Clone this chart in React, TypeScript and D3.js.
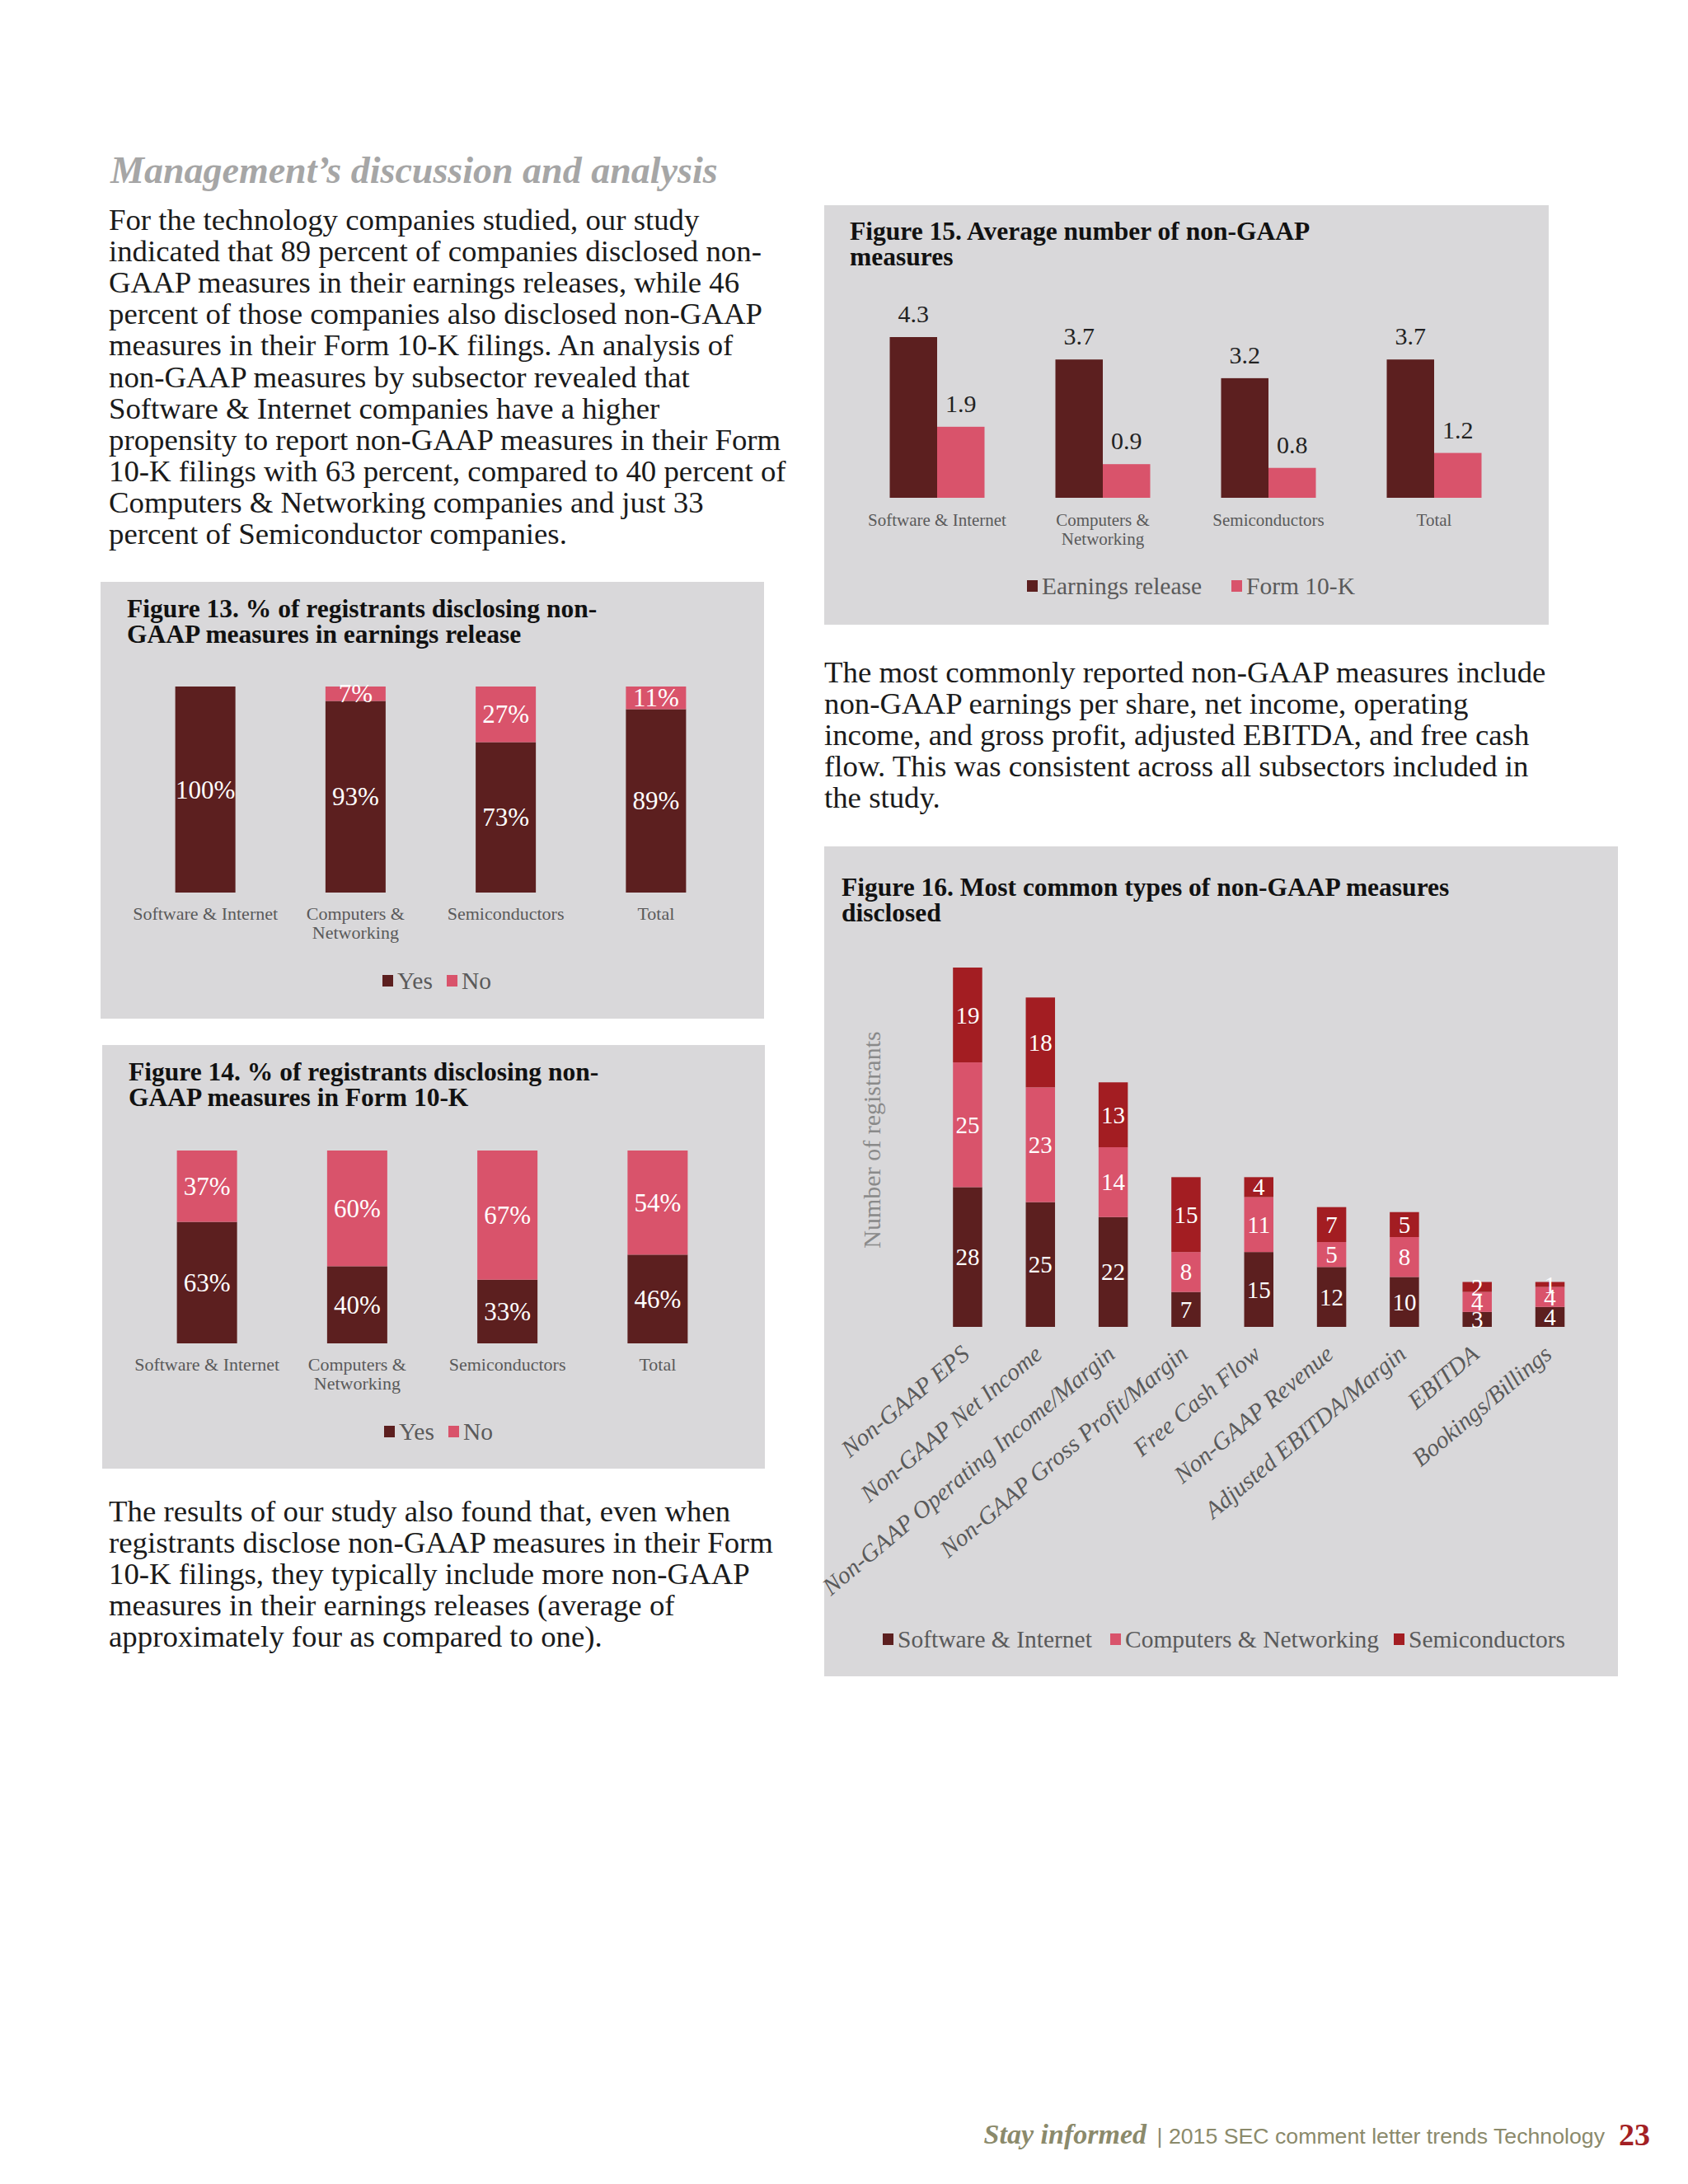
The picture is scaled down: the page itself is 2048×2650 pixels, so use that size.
import * as d3 from 'd3';

const SERIF = '"Liberation Serif", "Times New Roman", serif';
const SANS = '"Liberation Sans", Arial, sans-serif';

const DARK = '#5c1f1f';
const PINK = '#d9536b';
const RED = '#a31d22';
const PANEL = '#d9d8da';
const GRAY = '#5a5a5a';

// subsectors used by figures 13-15
const subsectors = ['Software & Internet', 'Computers & Networking', 'Semiconductors', 'Total'];
const subsectorLines = [['Software & Internet'], ['Computers &', 'Networking'], ['Semiconductors'], ['Total']];

// Figure 13: earnings release (%)
const earningsYes = [100, 93, 73, 89];
const earningsNo = [0, 7, 27, 11];

// Figure 14: Form 10-K (%)
const form10kYes = [63, 40, 33, 46];
const form10kNo = [37, 60, 67, 54];

// Figure 15: average number of measures
const avgEarnings = [4.3, 3.7, 3.2, 3.7];
const avgForm10k = [1.9, 0.9, 0.8, 1.2];

// Figure 16: most common types
const measures = [
  'Non-GAAP EPS',
  'Non-GAAP Net Income',
  'Non-GAAP Operating Income/Margin',
  'Non-GAAP Gross Profit/Margin',
  'Free Cash Flow',
  'Non-GAAP Revenue',
  'Adjusted EBITDA/Margin',
  'EBITDA',
  'Bookings/Billings',
];
const measureSoftware = [28, 25, 22, 7, 15, 12, 10, 3, 4];
const measureComputers = [25, 23, 14, 8, 11, 5, 8, 4, 4];
const measureSemis = [19, 18, 13, 15, 4, 7, 5, 2, 1];

const para1 = [
  'For the technology companies studied, our study',
  'indicated that 89 percent of companies disclosed non-',
  'GAAP measures in their earnings releases, while 46',
  'percent of those companies also disclosed non-GAAP',
  'measures in their Form 10-K filings. An analysis of',
  'non-GAAP measures by subsector revealed that',
  'Software & Internet companies have a higher',
  'propensity to report non-GAAP measures in their Form',
  '10-K filings with 63 percent, compared to 40 percent of',
  'Computers & Networking companies and just 33',
  'percent of Semiconductor companies.',
];
const para2 = [
  'The most commonly reported non-GAAP measures include',
  'non-GAAP earnings per share, net income, operating',
  'income, and gross profit, adjusted EBITDA, and free cash',
  'flow. This was consistent across all subsectors included in',
  'the study.',
];
const para3 = [
  'The results of our study also found that, even when',
  'registrants disclose non-GAAP measures in their Form',
  '10-K filings, they typically include more non-GAAP',
  'measures in their earnings releases (average of',
  'approximately four as compared to one).',
];

function Paragraph({ x, y, lines }: { x: number; y: number; lines: string[] }) {
  return (
    <text fontFamily={SERIF} fontSize={36.8} fill="#1a1a1a">
      {lines.map((l, i) => (
        <tspan key={i} x={x} y={y + i * 38.1}>{l}</tspan>
      ))}
    </text>
  );
}

function PanelTitle({ x, y, lines }: { x: number; y: number; lines: string[] }) {
  return (
    <text fontFamily={SERIF} fontSize={31.5} fontWeight="bold" fill="#111">
      {lines.map((l, i) => (
        <tspan key={i} x={x} y={y + i * 30.5}>{l}</tspan>
      ))}
    </text>
  );
}

function Legend({ y, items }: { y: number; items: { x: number; label: string; color: string }[] }) {
  return (
    <g fontFamily={SERIF} fontSize={29.5} fill={GRAY}>
      {items.map((it, i) => (
        <g key={i}>
          <rect x={it.x} y={y - 7} width={13} height={14} fill={it.color} />
          <text x={it.x + 18} y={y} dominantBaseline="central">{it.label}</text>
        </g>
      ))}
    </g>
  );
}

function PctPanel({ top, left, width, height, title, yes, no, barTop, barBase }: {
  top: number; left: number; width: number; height: number; title: string[];
  yes: number[]; no: number[]; barTop: number; barBase: number;
}) {
  const x = d3.scalePoint<string>().domain(subsectors).range([left + 36, left + 765]).padding(0.5);
  const y = d3.scaleLinear().domain([0, 100]).range([barBase, barTop]);
  const rows = subsectors.map((c, i) => ({ cat: c, yes: yes[i], no: no[i] }));
  const series = d3.stack<any>().keys(['yes', 'no'])(rows);
  const bw = 73;
  const colors: Record<string, string> = { yes: DARK, no: PINK };
  return (
    <g>
      <rect x={left} y={top} width={width} height={height} fill={PANEL} />
      <PanelTitle x={left + 32} y={top + 43} lines={title} />
      {series.map(s => (
        <g key={s.key}>
          {s.map((d, i) => {
            const v = d[1] - d[0];
            if (v <= 0) return null;
            const cx = x(subsectors[i])!;
            return (
              <g key={i}>
                <rect x={cx - bw / 2} y={y(d[1])} width={bw} height={y(d[0]) - y(d[1])} fill={colors[s.key]} />
                <text x={cx} y={(y(d[0]) + y(d[1])) / 2} textAnchor="middle" dominantBaseline="central"
                  fontFamily={SERIF} fontSize={31} fill="#fff">{v}%</text>
              </g>
            );
          })}
        </g>
      ))}
      <g fontFamily={SERIF} fontSize={22} fill={GRAY} textAnchor="middle">
        {subsectors.map((c, i) => (
          <text key={c}>
            {subsectorLines[i].map((l, j) => (
              <tspan key={j} x={x(c)} y={barBase + 33 + j * 23}>{l}</tspan>
            ))}
          </text>
        ))}
      </g>
      <Legend y={barBase + 107} items={[
        { x: left + 342, label: 'Yes', color: DARK },
        { x: left + 420, label: 'No', color: PINK },
      ]} />
    </g>
  );
}

function AvgPanel() {
  const left = 1000, top = 249, width = 879, height = 509;
  const base = 604;
  const x0 = d3.scaleBand<string>().domain(subsectors).range([1036.5, 1840.5]);
  const x1 = d3.scaleBand<string>().domain(['earn', 'form']).range([-57.5, 57.5]);
  const y = d3.scaleLinear().domain([0, 4.3]).range([base, base - 195]);
  const vals: Record<string, number[]> = { earn: avgEarnings, form: avgForm10k };
  const colors: Record<string, string> = { earn: DARK, form: PINK };
  return (
    <g>
      <rect x={left} y={top} width={width} height={height} fill={PANEL} />
      <PanelTitle x={left + 31} y={top + 42} lines={['Figure 15. Average number of non-GAAP', 'measures']} />
      {subsectors.map((c, i) => {
        const cx = x0(c)! + x0.bandwidth() / 2;
        return (
          <g key={c}>
            {(['earn', 'form'] as const).map(k => {
              const v = vals[k][i];
              const bx = cx + x1(k)!;
              return (
                <g key={k}>
                  <rect x={bx} y={y(v)} width={x1.bandwidth()} height={base - y(v)} fill={colors[k]} />
                  <text x={bx + x1.bandwidth() / 2} y={y(v) - 18} textAnchor="middle"
                    fontFamily={SERIF} fontSize={30} fill="#222">{v.toFixed(1)}</text>
                </g>
              );
            })}
            <text fontFamily={SERIF} fontSize={21} fill={GRAY} textAnchor="middle">
              {subsectorLines[i].map((l, j) => (
                <tspan key={j} x={cx} y={base + 34 + j * 23}>{l}</tspan>
              ))}
            </text>
          </g>
        );
      })}
      <Legend y={711} items={[
        { x: 1246, label: 'Earnings release', color: DARK },
        { x: 1494, label: 'Form 10-K', color: PINK },
      ]} />
    </g>
  );
}

function TypesPanel() {
  const left = 1000, top = 1027, width = 963, height = 1007;
  const base = 1610;
  const x = d3.scalePoint<string>().domain(measures).range([1129.8, 1924.7]).padding(0.5);
  const y = d3.scaleLinear().domain([0, 72]).range([base, base - 436]);
  const rows = measures.map((m, i) => ({ m, sw: measureSoftware[i], cn: measureComputers[i], sc: measureSemis[i] }));
  const series = d3.stack<any>().keys(['sw', 'cn', 'sc'])(rows);
  const colors: Record<string, string> = { sw: DARK, cn: PINK, sc: RED };
  const bw = 35.5;
  return (
    <g>
      <rect x={left} y={top} width={width} height={height} fill={PANEL} />
      <PanelTitle x={1021} y={1087} lines={['Figure 16. Most common types of non-GAAP measures', 'disclosed']} />
      <text transform="translate(1068,1383) rotate(-90)" textAnchor="middle" fontFamily={SERIF}
        fontSize={30} fill="#8a8a8a">Number of registrants</text>
      {series.map(s => (
        <g key={s.key}>
          {s.map((d, i) => {
            const v = d[1] - d[0];
            const cx = x(measures[i])!;
            return (
              <g key={i}>
                <rect x={cx - bw / 2} y={y(d[1])} width={bw} height={y(d[0]) - y(d[1])} fill={colors[s.key]} />
                <text x={cx} y={(y(d[0]) + y(d[1])) / 2} textAnchor="middle" dominantBaseline="central"
                  fontFamily={SERIF} fontSize={29} fill="#fff">{v}</text>
              </g>
            );
          })}
        </g>
      ))}
      <g fontFamily={SERIF} fontSize={29.5} fontStyle="italic" fill={GRAY} textAnchor="end">
        {measures.map(m => (
          <text key={m} transform={`translate(${x(m)! + 4},${base + 36}) rotate(-40)`}>{m}</text>
        ))}
      </g>
      <Legend y={1989} items={[
        { x: 1071, label: 'Software & Internet', color: DARK },
        { x: 1347, label: 'Computers & Networking', color: PINK },
        { x: 1691, label: 'Semiconductors', color: RED },
      ]} />
    </g>
  );
}

export default function App() {
  return (
    <div style={{ position: 'absolute', left: 0, top: 0 }}>
      <svg width={2048} height={2650} viewBox="0 0 2048 2650" style={{ display: 'block', background: '#fff' }}>
        <text x={134} y={222} fontFamily={SERIF} fontSize={46} fontStyle="italic" fontWeight="bold" fill="#a6a6a6">
          Management’s discussion and analysis
        </text>
        <Paragraph x={132} y={279} lines={para1} />
        <PctPanel top={706} left={122} width={805} height={530}
          title={['Figure 13. % of registrants disclosing non-', 'GAAP measures in earnings release']}
          yes={earningsYes} no={earningsNo} barTop={833} barBase={1083} />
        <PctPanel top={1268} left={124} width={804} height={514}
          title={['Figure 14. % of registrants disclosing non-', 'GAAP measures in Form 10-K']}
          yes={form10kYes} no={form10kNo} barTop={1396} barBase={1630} />
        <Paragraph x={132} y={1846} lines={para3} />
        <AvgPanel />
        <Paragraph x={1000} y={828} lines={para2} />
        <TypesPanel />
        <text x={1391} y={2601} textAnchor="end" fontFamily={SERIF} fontSize={34} fontStyle="italic"
          fontWeight="bold" fill="#8b8a6b">Stay informed</text>
        <text x={1947} y={2601} textAnchor="end" fontFamily={SANS} fontSize={26.7} fill="#8b8a6b">
          | 2015 SEC comment letter trends Technology
        </text>
        <text x={2002} y={2603} textAnchor="end" fontFamily={SERIF} fontSize={38} fontWeight="bold"
          fill="#a31f24">23</text>
      </svg>
    </div>
  );
}
